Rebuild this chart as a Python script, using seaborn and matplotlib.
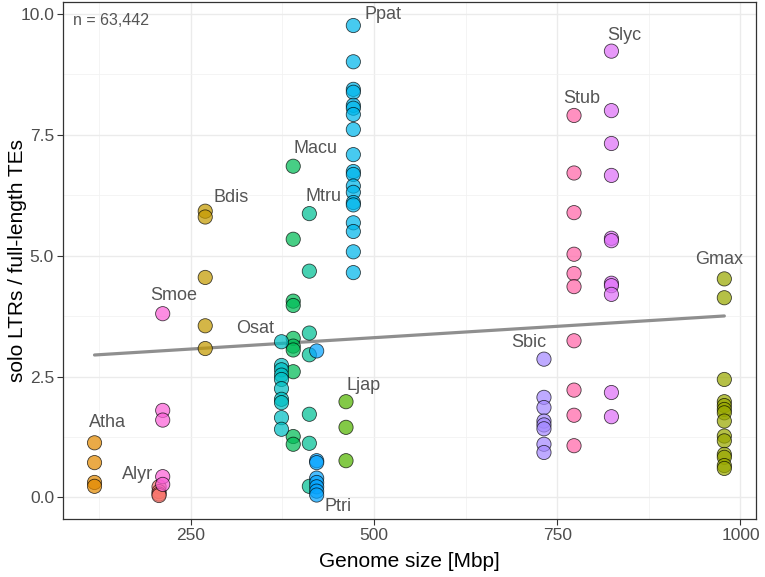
import numpy as np
import pandas as pd
import seaborn as sns
import matplotlib.pyplot as plt

# species, genome size [Mbp] and solo LTR / full-length TE ratios
species = ["Alyr", "Atha", "Bdis", "Gmax", "Ljap", "Macu", "Mtru",
           "Osat", "Ppat", "Ptri", "Sbic", "Slyc", "Smoe", "Stub"]
genome_size = [207, 119, 270, 978, 462, 390, 412, 374, 472, 422, 732, 824, 212, 773]

alyr = [0.22, 0.12, 0.07, 0.04]
atha = [1.13, 0.72, 0.31, 0.23]
bdis = [5.92, 5.80, 4.55, 3.55, 3.08]
gmax = [4.52, 4.13, 2.44, 1.98, 1.90, 1.82, 1.75, 1.58, 1.27, 1.17, 0.89, 0.83, 0.66, 0.60]
ljap = [1.98, 1.45, 0.76]
macu = [6.85, 5.34, 4.06, 3.97, 3.29, 3.13, 3.05, 2.60, 1.26, 1.10]
mtru = [5.87, 4.68, 3.40, 2.95, 1.72, 1.12, 0.23]
osat = [3.22, 2.73, 2.64, 2.53, 2.44, 2.25, 2.03, 1.96, 1.65, 1.41]
ppat = [9.76, 9.01, 8.44, 8.38, 8.11, 8.05, 7.92, 7.61, 7.09, 6.74, 6.68,
        6.44, 6.31, 6.10, 6.05, 5.68, 5.50, 5.08, 4.65]
ptri = [3.03, 0.76, 0.72, 0.40, 0.31, 0.22, 0.13, 0.05]
sbic = [2.86, 2.07, 1.86, 1.58, 1.50, 1.42, 1.10, 0.93]
slyc = [9.23, 8.00, 7.32, 6.66, 5.36, 5.31, 4.43, 4.38, 4.20, 2.17, 1.67]
smoe = [3.80, 1.80, 1.60, 0.43, 0.27]
stub = [7.90, 6.71, 5.89, 5.03, 4.63, 4.36, 3.24, 2.22, 1.70, 1.07]
ratios = [alyr, atha, bdis, gmax, ljap, macu, mtru, osat, ppat, ptri, sbic, slyc, smoe, stub]

n_label = "n = 63,442"

# label offsets from the top point of each species, in pixels, positive = up
label_offset = {"Alyr": (-22, 12), "Atha": (13, 20), "Bdis": (26, 14), "Gmax": (-5, 19),
                "Ljap": (18, 16), "Macu": (22, 18), "Mtru": (14, 17), "Osat": (-26, 13),
                "Ppat": (30, 11), "Ptri": (21, -156), "Sbic": (-15, 17), "Slyc": (13, 16),
                "Smoe": (11, 18), "Stub": (8, 17)}

rows = []
for sp, gs, vals in zip(species, genome_size, ratios):
    for v in vals:
        rows.append((sp, gs, v))
df = pd.DataFrame(rows, columns=["species", "genome_size", "ratio"])


def hue_pal(n, l=65, c=100):
    # ggplot2 default discrete palette (hcl, polar Luv)
    hues = np.linspace(15, 375, n + 1)[:-1]
    Xn, Yn, Zn = 95.047, 100.0, 108.883
    un = 4 * Xn / (Xn + 15 * Yn + 3 * Zn)
    vn = 9 * Yn / (Xn + 15 * Yn + 3 * Zn)
    out = []
    for h in hues:
        u = c * np.cos(np.radians(h))
        v = c * np.sin(np.radians(h))
        Y = Yn * ((l + 16) / 116) ** 3
        up = u / (13 * l) + un
        vp = v / (13 * l) + vn
        X = Y * 9 * up / (4 * vp)
        Z = Y * (12 - 3 * up - 20 * vp) / (4 * vp)
        xyz = np.array([X, Y, Z]) / 100
        m = np.array([[3.2404542, -1.5371385, -0.4985314],
                      [-0.9692660, 1.8760108, 0.0415560],
                      [0.0556434, -0.2040259, 1.0572252]])
        rgb = m @ xyz
        rgb = np.where(rgb <= 0.0031308, 12.92 * rgb, 1.055 * np.clip(rgb, 0, None) ** (1 / 2.4) - 0.055)
        out.append(tuple(np.clip(rgb, 0, 1)))
    return out


palette = dict(zip(species, hue_pal(len(species))))

sns.set_theme(style="whitegrid")
plt.rcParams["font.family"] = ["Liberation Sans", "DejaVu Sans"]

fig, ax = plt.subplots(figsize=(7.65, 5.77), dpi=100)
fig.subplots_adjust(left=0.0824, right=0.988, top=0.9965, bottom=0.1005)

sns.regplot(data=df, x="genome_size", y="ratio", scatter=False, ci=None,
            color="#8f8f8f", line_kws=dict(lw=2.3), truncate=True, ax=ax)
sns.scatterplot(data=df, x="genome_size", y="ratio", hue="species", palette=palette,
                s=105, alpha=0.72, edgecolor="black", linewidth=0.6, legend=False,
                zorder=3, ax=ax)

for sp, gs, vals in zip(species, genome_size, ratios):
    dx, dy = label_offset[sp]
    ax.annotate(sp, (gs, max(vals)), xytext=(dx, dy), textcoords="offset pixels",
                ha="center", va="center", fontsize=13, color="#555555", zorder=4)

ax.text(0.015, 0.965, n_label, transform=ax.transAxes, ha="left", va="center",
        fontsize=11.5, color="#555555")

xr = max(genome_size) - min(genome_size)
allv = df["ratio"]
yr = allv.max() - allv.min()
ax.set_xlim(min(genome_size) - 0.05 * xr, max(genome_size) + 0.05 * xr)
ax.set_ylim(allv.min() - 0.05 * yr, allv.max() + 0.05 * yr)
ax.set_xticks([250, 500, 750, 1000])
ax.set_yticks([0, 2.5, 5, 7.5, 10])
ax.set_yticklabels(["0.0", "2.5", "5.0", "7.5", "10.0"])
ax.set_xticks([125, 375, 625, 875], minor=True)
ax.set_yticks([1.25, 3.75, 6.25, 8.75], minor=True)
ax.grid(which="major", color="#ebebeb", lw=1.0)
ax.grid(which="minor", color="#f2f2f2", lw=0.6)
ax.tick_params(which="major", length=4, width=0.8, color="#333333", labelsize=12.5,
               labelcolor="#4d4d4d", bottom=True, left=True, pad=2.5)
ax.tick_params(which="minor", length=0)
for s in ax.spines.values():
    s.set_color("#333333")
    s.set_linewidth(0.9)

ax.set_xlabel("Genome size [Mbp]", fontsize=15, color="black", va="center")
ax.set_ylabel("solo LTRs / full-length TEs", fontsize=15, color="black", va="center")
ax.xaxis.set_label_coords(0.5, -0.083)
ax.yaxis.set_label_coords(-0.066, 0.5)

fig.savefig("out.png", dpi=100)
